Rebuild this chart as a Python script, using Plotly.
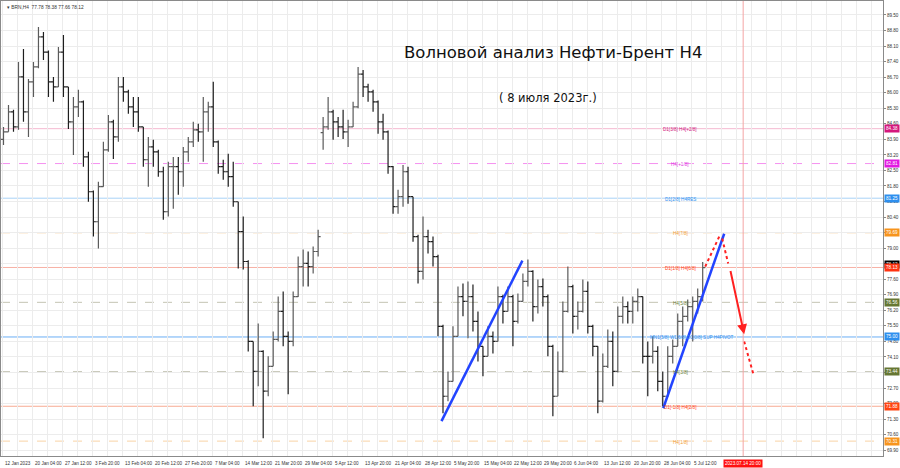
import plotly.graph_objects as go

# ---------------- data (BRN H4, aggregated candles) ----------------
opens = [83.90, 84.24, 85.14, 84.46, 86.71, 85.14, 86.49, 87.16, 88.51, 87.83,
         86.49, 86.26, 87.83, 86.26, 84.69, 85.36, 85.59, 83.11, 81.54, 80.19,
         81.77, 83.43, 84.69, 84.01, 86.26, 86.04, 85.36, 85.14, 84.46, 82.98,
         83.56, 83.34, 82.44, 80.64, 82.67, 82.67, 82.44, 83.34, 83.79, 84.33,
         84.24, 85.14, 85.36, 83.79, 82.67, 82.44, 82.22, 81.09, 79.74, 78.40,
         74.80, 73.45, 74.35, 72.56, 73.68, 74.89, 76.15, 75.03, 74.80, 76.82,
         78.17, 78.31, 78.17, 78.85, 84.20, 84.46, 85.14, 84.69, 84.46, 84.24,
         84.46, 85.36, 86.84, 86.26, 86.04, 85.59, 84.69, 84.24, 82.67, 80.87,
         81.32, 82.44, 81.32, 79.52, 77.95, 79.52, 79.29, 78.62, 75.48, 72.33,
         73.00, 75.03, 76.82, 76.60, 76.82, 75.70, 74.58, 74.13, 75.03, 74.80,
         76.82, 76.15, 76.82, 75.70, 76.60, 77.50, 77.95, 76.37, 77.27, 76.82,
         74.58, 72.33, 73.45, 76.15, 77.27, 75.93, 76.15, 77.05, 75.48, 74.58,
         72.11, 73.68, 74.80, 73.45, 75.93, 76.37, 76.15, 76.60, 76.82, 74.13,
         74.13, 74.35, 73.00, 72.33, 74.13, 74.58, 75.70, 75.93, 76.37, 76.60,
         76.82]
highs = [84.46, 85.45, 85.23, 87.38, 87.97, 86.62, 87.38, 88.96, 88.73, 87.90,
         86.71, 88.06, 88.60, 86.26, 85.81, 86.13, 85.65, 83.34, 81.60, 81.99,
         83.79, 85.00, 84.78, 86.71, 86.71, 86.13, 85.81, 85.81, 84.46, 84.01,
         83.88, 83.43, 82.67, 82.89, 83.11, 83.11, 83.56, 84.01, 84.69, 84.60,
         85.81, 85.59, 86.49, 83.85, 82.98, 83.25, 82.89, 81.09, 80.42, 78.45,
         74.80, 75.61, 74.40, 74.13, 75.25, 76.82, 77.05, 75.25, 77.05, 78.62,
         78.94, 78.85, 79.07, 79.83, 84.91, 85.81, 85.23, 84.91, 85.23, 84.78,
         85.59, 87.16, 87.02, 86.40, 86.13, 85.65, 85.05, 84.30, 82.70, 81.63,
         82.75, 82.67, 81.32, 79.60, 80.42, 79.83, 79.52, 78.70, 75.55, 73.45,
         75.48, 77.27, 77.41, 77.50, 77.36, 76.15, 74.58, 75.48, 75.25, 77.27,
         76.90, 77.27, 76.90, 76.96, 77.86, 78.49, 78.00, 77.59, 77.63, 76.91,
         74.65, 74.35, 76.60, 78.17, 77.35, 76.60, 77.59, 77.50, 75.55, 74.58,
         74.26, 75.34, 75.25, 76.37, 76.82, 76.60, 76.82, 77.18, 76.82, 74.80,
         75.03, 74.58, 73.45, 74.58, 74.89, 76.06, 76.37, 76.69, 76.82, 77.18,
         78.38]
lows = [83.65, 84.24, 84.24, 84.33, 84.69, 84.01, 85.81, 87.10, 87.47, 85.81,
        85.59, 86.26, 85.81, 84.37, 83.20, 84.91, 82.67, 81.09, 79.52, 78.98,
        81.77, 83.34, 83.02, 83.79, 85.59, 85.05, 84.46, 84.24, 82.67, 81.77,
        82.67, 82.22, 80.28, 80.42, 80.78, 81.41, 81.77, 82.89, 83.56, 83.79,
        82.89, 84.24, 83.56, 82.35, 82.08, 81.77, 80.87, 78.08, 78.04, 74.35,
        71.88, 72.78, 70.44, 72.33, 73.68, 74.80, 74.58, 72.42, 74.58, 76.80,
        77.27, 77.27, 77.86, 78.62, 83.43, 84.33, 83.88, 84.01, 83.92, 83.56,
        84.46, 85.30, 85.81, 85.59, 85.14, 84.15, 83.88, 82.35, 80.55, 80.55,
        80.87, 81.00, 79.29, 77.41, 77.59, 78.76, 78.17, 75.03, 71.57, 72.11,
        73.00, 75.03, 75.93, 74.94, 75.25, 73.90, 73.23, 74.13, 74.26, 74.80,
        75.61, 76.15, 74.58, 75.61, 76.60, 77.27, 75.70, 76.06, 76.37, 74.13,
        71.43, 72.33, 73.40, 76.10, 75.16, 75.34, 76.10, 75.16, 74.13, 71.57,
        72.05, 73.60, 72.78, 73.40, 75.61, 75.61, 75.61, 76.15, 73.81, 72.33,
        73.81, 72.56, 71.88, 72.30, 73.81, 74.58, 74.58, 75.70, 74.80, 76.06,
        76.60]
closes = [84.24, 85.14, 84.46, 86.71, 85.14, 86.49, 87.16, 88.51, 87.83, 86.49,
          86.26, 87.83, 86.26, 84.69, 85.36, 85.59, 83.11, 81.54, 80.19, 81.77,
          83.43, 84.69, 84.01, 86.26, 86.04, 85.36, 85.14, 84.46, 82.98, 83.56,
          83.34, 82.44, 80.64, 82.67, 82.67, 82.44, 83.34, 83.79, 84.33, 84.24,
          85.14, 85.36, 83.79, 82.67, 82.44, 82.22, 81.09, 79.74, 78.40, 74.80,
          73.45, 74.35, 72.56, 73.68, 74.89, 76.15, 75.03, 74.80, 76.82, 78.17,
          78.31, 78.17, 78.85, 79.52, 84.46, 85.14, 84.69, 84.46, 84.24, 84.46,
          85.36, 86.84, 86.26, 86.04, 85.59, 84.69, 84.24, 82.67, 80.87, 81.32,
          82.44, 81.32, 79.52, 77.95, 79.52, 79.29, 78.62, 75.48, 72.33, 73.00,
          75.03, 76.82, 76.60, 76.82, 75.70, 74.58, 74.13, 75.03, 74.80, 76.82,
          76.15, 76.82, 75.70, 76.60, 77.50, 77.95, 76.37, 77.27, 76.82, 74.58,
          72.33, 73.45, 76.15, 77.27, 75.93, 76.15, 77.05, 75.48, 74.58, 72.11,
          73.68, 74.80, 73.45, 75.93, 76.37, 76.15, 76.60, 76.82, 74.13, 74.13,
          74.35, 73.00, 72.33, 74.13, 74.58, 75.70, 75.93, 76.37, 76.60, 76.82,
          78.12]
bars = list(range(len(closes)))

date_labels = ["12 Jan 2023", "20 Jan 04:00", "27 Jan 12:00", "3 Feb 20:00", "13 Feb 04:00",
               "20 Feb 12:00", "27 Feb 20:00", "7 Mar 04:00", "14 Mar 12:00", "21 Mar 20:00",
               "29 Mar 04:00", "5 Apr 12:00", "13 Apr 20:00", "21 Apr 04:00", "28 Apr 12:00",
               "5 May 20:00", "15 May 04:00", "22 May 12:00", "29 May 20:00", "6 Jun 04:00",
               "13 Jun 12:00", "20 Jun 20:00", "28 Jun 04:00", "5 Jul 12:00"]
date_label_bars = [-0.1 + 6 * k for k in range(len(date_labels))]

level_prices = [84.38, 82.81, 81.25, 79.69, 78.13, 76.56, 75.00, 73.44, 71.88, 70.31]
level_names = ["D1[3/8] H4[+2/8]", "H4[+1/8]", "D1[2/8] H4RES", "H4[7/8]", "D1[1/8] H4[6/8]",
               "H4[5/8]", "MN1[5/8] W1[6/8] D1[0/8] SUP H4PIVOT", "H4[3/8]",
               "D1[-1/8] H4[2/8]", "H4[1/8]"]
level_line_colors = ["#f5b8d0", "#f590f0", "#a9d2f7", "#f9d3a6", "#f7b0a4",
                     "#c4c4b4", "#6aaef5", "#c4c4b4", "#f8aa92", "#f9d3a6"]
level_dash = ["solid", "dash", "solid", "dash", "solid", "dash", "solid", "dash", "solid", "dash"]
level_text_colors = ["#d02080", "#e030e0", "#3090f0", "#f39c34", "#ff4422",
                     "#6b7d3a", "#3390ee", "#6b7d3a", "#ff4422", "#f39c34"]
level_box_colors = ["#d4177d", "#e21ae2", "#2e8fee", "#f7941d", "#ff3311",
                    "#667733", "#2e8fee", "#667733", "#ff4411", "#f7941d"]

wave1_bars = [87.7, 103.9]
wave1_prices = [71.21, 78.44]
wave2_bars = [132.1, 144.3]
wave2_prices = [71.79, 79.65]

# forecast path: (start bar, start price, end bar, end price, dotted?)
forecast_segments = [
    (140.5, 78.17, 143.5, 79.61, True),
    (143.9, 79.43, 145.1, 78.31, True),
    (145.5, 78.04, 148.3, 75.12, False),
    (148.3, 74.80, 150.1, 73.36, True),
]
forecast_time_bar = 148.1
forecast_time_label = "2023.07.14 20:00"
header_text = "▾ BRN,H4  77.78 78.38 77.66 78.12"
title_text = "Волновой анализ Нефти-Брент H4"
subtitle_text = "( 8 июля 2023г.)"
current_price = 78.12

# ---------------- figure ----------------
fig = go.Figure()
fig.add_trace(go.Ohlc(
    x=bars, open=opens, high=highs, low=lows, close=closes, tickwidth=0.5,
    increasing=dict(line=dict(color="#5a5a5a", width=1.2)),
    decreasing=dict(line=dict(color="#1e1e1e", width=1.2)),
    hoverinfo="skip", showlegend=False))

shapes = []
annotations = []
for p, name, lc, ds, tc in zip(level_prices, level_names, level_line_colors, level_dash,
                               level_text_colors):
    shapes.append(dict(type="line", xref="paper", x0=0, x1=1, yref="y", y0=p, y1=p,
                       line=dict(color=lc, width=1, dash=ds), layer="below"))
    annotations.append(dict(x=135.5 if len(name) < 20 else 137.9, y=p, xref="x", yref="y",
                            text=name, showarrow=False, font=dict(size=4.6, color=tc,
                            family="Liberation Sans"), yshift=-1))
# current price black marker (under the red level box)
annotations.append(dict(x=1, xref="paper", y=current_price, yref="y", xanchor="left", xshift=1,
                        yshift=3, text=f"{current_price:.2f}", showarrow=False, bgcolor="#000000",
                        font=dict(size=4.6, color="#ffffff", family="Liberation Sans"), borderpad=1))
for p, bc in zip(level_prices, level_box_colors):
    annotations.append(dict(x=1, xref="paper", y=p, yref="y", xanchor="left", xshift=1,
                            text=f"{p:.2f}", showarrow=False, bgcolor=bc,
                            font=dict(size=4.6, color="#ffffff", family="Liberation Sans"),
                            borderpad=1))

# vertical forecast time line
shapes.append(dict(type="line", xref="x", x0=forecast_time_bar, x1=forecast_time_bar,
                   yref="paper", y0=0, y1=1, line=dict(color="#f4a4a4", width=1)))
annotations.append(dict(x=forecast_time_bar, xref="x", y=0, yref="paper", yanchor="top",
                        yshift=-3, text=forecast_time_label, showarrow=False, bgcolor="#ff1010",
                        font=dict(size=4.6, color="#ffffff", family="Liberation Sans"),
                        borderpad=1))

# wave trend lines
for bx, py in ((wave1_bars, wave1_prices), (wave2_bars, wave2_prices)):
    fig.add_trace(go.Scatter(x=bx, y=py, mode="lines", line=dict(color="#2244ff", width=2.5),
                             hoverinfo="skip", showlegend=False))

# forecast arrows
for x0, y0, x1, y1, dotted in forecast_segments:
    if dotted:
        fig.add_trace(go.Scatter(x=[x0, x1], y=[y0, y1], mode="lines",
                                 line=dict(color="#ff2020", width=2, dash="dot"),
                                 hoverinfo="skip", showlegend=False))
        ax = x1 - 0.08 * (x1 - x0)
        ay = y1 - 0.08 * (y1 - y0)
    else:
        ax, ay = x0, y0
    annotations.append(dict(x=x1, y=y1, xref="x", yref="y", ax=ax, ay=ay, axref="x", ayref="y",
                            showarrow=True, arrowhead=2, arrowsize=1, arrowwidth=2,
                            arrowcolor="#ff2020", text=""))

# date labels
for b, lab in zip(date_label_bars, date_labels):
    annotations.append(dict(x=b, xref="x", y=0, yref="paper", xanchor="left", yanchor="top",
                            yshift=-3, text=lab, showarrow=False,
                            font=dict(size=4.6, color="#333333", family="Liberation Sans")))

# header and titles
annotations.append(dict(x=0.004, y=0.995, xref="paper", yref="paper", xanchor="left",
                        yanchor="top", text=header_text, showarrow=False,
                        font=dict(size=4.8, color="#333333", family="Liberation Sans")))
annotations.append(dict(x=553 / 883, y=1 - 40 / 456, xref="paper", yref="paper",
                        text=title_text, showarrow=False,
                        font=dict(size=16.5, color="#111111", family="DejaVu Sans")))
annotations.append(dict(x=548 / 883, y=1 - 88 / 456, xref="paper", yref="paper",
                        text=subtitle_text, showarrow=False,
                        font=dict(size=11.5, color="#111111", family="DejaVu Sans")))

fig.update_layout(
    width=900, height=468, margin=dict(l=1, r=17, t=1, b=12),
    paper_bgcolor="#ffffff", plot_bgcolor="#ffffff",
    shapes=shapes, annotations=annotations, hovermode=False, showlegend=False,
    xaxis=dict(range=[-0.5, 176.1], rangeslider=dict(visible=False), tick0=-0.16, dtick=3,
               showticklabels=False, ticks="", showgrid=True, gridcolor="#ececec", gridwidth=1,
               zeroline=False, showline=True, linecolor="#8a8a8a", linewidth=1, mirror=True),
    yaxis=dict(range=[69.64, 90.13], side="right", tick0=69.9, dtick=0.7, tickformat=".2f",
               ticks="outside", ticklen=2, tickcolor="#888888",
               tickfont=dict(size=4.6, color="#333333", family="Liberation Sans"),
               showgrid=True, gridcolor="#ececec", gridwidth=1, zeroline=False,
               showline=True, linecolor="#8a8a8a", linewidth=1, mirror=True),
)

fig.write_html("out.html", config={"displayModeBar": False, "staticPlot": True},
               post_script="document.body.style.margin='0';document.body.style.padding='0';")
